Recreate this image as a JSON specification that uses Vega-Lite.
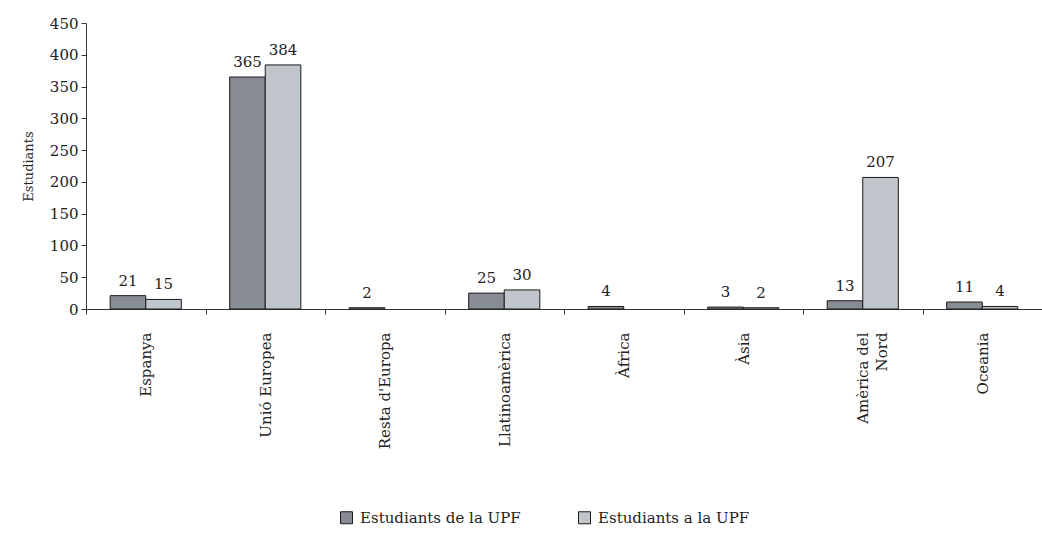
{
  "$schema": "https://vega.github.io/schema/vega-lite/v6.json",
  "width": 956,
  "height": 286,
  "autosize": {"type": "none"},
  "padding": {"left": 86, "top": 23, "right": 0, "bottom": 226},
  "background": "white",
  "config": {
    "view": {"stroke": null},
    "font": "DejaVu Serif",
    "axis": {"labelFont": "DejaVu Serif", "titleFont": "DejaVu Serif", "labelColor": "#222", "titleColor": "#222", "domainColor": "#333", "tickColor": "#333"},
    "legend": {"labelFont": "DejaVu Serif"},
    "text": {"font": "DejaVu Serif"}
  },
  "data": {
    "values": [
      {"regio": "Espanya", "grup": "Estudiants de la UPF", "n": 21},
      {"regio": "Espanya", "grup": "Estudiants a la UPF", "n": 15},
      {"regio": "Unió Europea", "grup": "Estudiants de la UPF", "n": 365},
      {"regio": "Unió Europea", "grup": "Estudiants a la UPF", "n": 384},
      {"regio": "Resta d'Europa", "grup": "Estudiants de la UPF", "n": 2},
      {"regio": "Llatinoamèrica", "grup": "Estudiants de la UPF", "n": 25},
      {"regio": "Llatinoamèrica", "grup": "Estudiants a la UPF", "n": 30},
      {"regio": "Àfrica", "grup": "Estudiants de la UPF", "n": 4},
      {"regio": "Àsia", "grup": "Estudiants de la UPF", "n": 3},
      {"regio": "Àsia", "grup": "Estudiants a la UPF", "n": 2},
      {"regio": "Amèrica del Nord", "grup": "Estudiants de la UPF", "n": 13},
      {"regio": "Amèrica del Nord", "grup": "Estudiants a la UPF", "n": 207},
      {"regio": "Oceania", "grup": "Estudiants de la UPF", "n": 11},
      {"regio": "Oceania", "grup": "Estudiants a la UPF", "n": 4}
    ]
  },
  "encoding": {
    "x": {
      "field": "regio", "type": "nominal",
      "sort": ["Espanya", "Unió Europea", "Resta d'Europa", "Llatinoamèrica", "Àfrica", "Àsia", "Amèrica del Nord", "Oceania"],
      "scale": {"paddingInner": 0, "paddingOuter": 0},
      "axis": {
        "title": null, "labelAngle": -90, "labelFontSize": 15, "labelPadding": 18,
        "tickBand": "extent", "tickSize": 5, "ticks": true,
        "labelExpr": "datum.value == 'Amèrica del Nord' ? ['Amèrica del', 'Nord'] : datum.value",
        "labelLineHeight": 19
      }
    },
    "xOffset": {
      "field": "grup", "type": "nominal",
      "scale": {"domain": ["Estudiants de la UPF", "Estudiants a la UPF"], "paddingInner": 0, "paddingOuter": 0.68}
    },
    "y": {
      "field": "n", "type": "quantitative",
      "scale": {"domain": [0, 450]},
      "axis": {"title": "Estudiants", "values": [0, 50, 100, 150, 200, 250, 300, 350, 400, 450], "grid": false, "tickSize": 5, "labelFontSize": 15, "labelPadding": 3, "titleFontSize": 13, "titleFontWeight": "normal", "titlePadding": 14}
    }
  },
  "layer": [
    {
      "mark": {"type": "bar", "stroke": "#1a1a1a", "strokeWidth": 1},
      "encoding": {
        "color": {
          "field": "grup", "type": "nominal",
          "scale": {"domain": ["Estudiants de la UPF", "Estudiants a la UPF"], "range": ["#878c93", "#c1c5cc"]},
          "legend": {
            "title": null, "orient": "none", "direction": "horizontal", "legendX": 253, "legendY": 487,
            "symbolType": "square", "symbolSize": 144, "symbolStrokeColor": "#1a1a1a", "symbolStrokeWidth": 1,
            "labelFontSize": 15, "labelLimit": 400, "labelColor": "#222", "columnPadding": 55, "labelOffset": 6
          }
        }
      }
    },
    {
      "mark": {"type": "text", "dy": -15, "fontSize": 15, "color": "#222", "font": "DejaVu Serif"},
      "encoding": {"text": {"field": "n", "type": "quantitative"}}
    }
  ]
}
